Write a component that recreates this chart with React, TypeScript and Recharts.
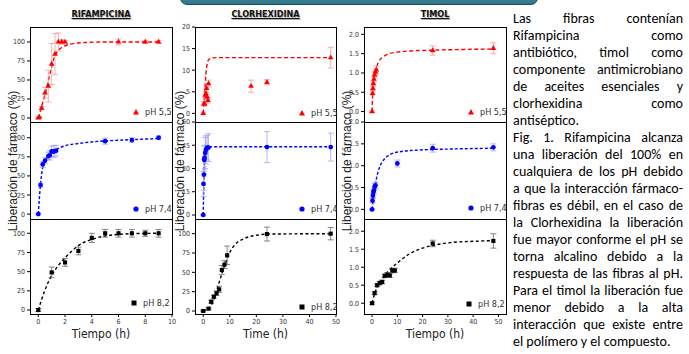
import React from 'react';
import { ComposedChart, Scatter, Line, XAxis, YAxis, ZAxis, ErrorBar } from 'recharts';

// [tiempo, liberación, error]
const rif55 = [[0, 0, 1], [0.08, 1, 1], [0.25, 13, 2], [0.5, 33, 7], [0.75, 42, 21], [1, 71, 27], [1.25, 84, 27], [1.5, 100, 12], [1.75, 100, 3], [2, 100, 2], [6, 100, 4], [8, 100, 2], [9, 100, 2]];
const rif74 = [[0, 0, 1], [0.17, 38, 3], [0.33, 65, 4], [0.5, 70, 4], [0.75, 76, 5], [0.85, 77, 6], [1, 82, 7], [1.17, 82, 8], [1.33, 83, 7], [5, 95.5, 4], [7, 97, 3], [9, 100, 2]];
const rif82 = [[0, 0, 2], [1, 49, 7], [2, 62, 5], [3, 77, 5], [4, 94, 6], [5, 100, 5], [6, 100, 5], [7, 100, 5], [8, 100, 4], [9, 100, 5]];
const clx55 = [[0, 0, 0.3], [0.25, 2.2, 0.4], [0.5, 2.2, 0.5], [0.75, 4.2, 0.8], [1, 4.6, 1], [1.25, 5.8, 1], [1.5, 3.8, 0.6], [1.75, 3, 0.6], [2, 6.9, 0.8], [18, 6.3, 1.4], [24, 7.2, 0.6], [48, 12.9, 2.4]];
const clx74 = [[0, 0, 0.5], [0.1, 20, 8], [0.25, 26, 10], [0.4, 35.5, 9], [0.5, 37, 8], [0.75, 40, 10], [1, 42, 9], [1.5, 43.5, 8], [2, 43.5, 9], [24, 43.8, 10], [48, 43.8, 9]];
const clx82 = [[0, 0, 1], [2, 3, 1], [3, 12, 2], [4, 18.5, 2], [5, 23, 3], [6, 28, 4], [7, 53, 6], [8, 60, 5], [9, 72, 12], [24, 99.5, 9], [48, 100, 8]];
const tim55 = [[0, 0, 0.02], [0.17, 0.47, 0.04], [0.33, 0.6, 0.05], [0.5, 0.73, 0.06], [0.75, 0.84, 0.07], [1, 0.95, 0.08], [1.33, 1.03, 0.08], [1.67, 1.08, 0.1], [24, 1.58, 0.12], [48, 1.64, 0.14]];
const tim74 = [[0, 0, 0.02], [0.17, 0.2, 0.05], [0.33, 0.31, 0.05], [0.5, 0.4, 0.06], [0.75, 0.43, 0.06], [1, 0.52, 0.07], [1.33, 0.55, 0.07], [10, 1.05, 0.08], [24, 1.4, 0.09], [48, 1.42, 0.08]];
const tim82 = [[0, 0, 0.03], [1, 0.28, 0.04], [2, 0.5, 0.04], [3, 0.56, 0.05], [4, 0.59, 0.05], [5, 0.76, 0.05], [6, 0.79, 0.06], [7, 0.77, 0.05], [8, 0.91, 0.06], [9, 0.91, 0.06], [24, 1.66, 0.09], [48, 1.73, 0.2]];

// curvas de ajuste [tiempo, liberación]
const rif55Fit = [[0, 0], [0.5, 31], [0.9, 60], [1.2, 80], [1.5, 89], [2, 95], [2.5, 97.5], [3.5, 99.3], [5, 100], [9, 100]];
const rif74Fit = [[0, 0], [0.15, 36], [0.3, 58], [0.5, 69], [0.75, 76], [1, 80], [1.5, 86], [2, 89.5], [3, 92.5], [4, 94.5], [5, 95.8], [7, 97.5], [9, 99]];
const rif82Fit = [[0, 0], [0.5, 26], [1, 45], [1.5, 58], [2, 68], [3, 84], [4, 92], [5, 96.5], [6, 98.5], [7, 99.5], [9, 100]];
const clx55Fit = [[0, 0], [0.5, 4], [1, 9], [1.5, 11.5], [2, 12.4], [3, 12.8], [5, 12.9], [48, 12.9]];
const clx74Fit = [[0, 0], [0.25, 24], [0.5, 35], [1, 41.5], [1.5, 43.5], [2, 44], [48, 44]];
const clx82Fit = [[0, 0], [2, 3], [4, 15], [6, 37], [8, 58], [10, 76], [12, 86], [15, 93], [20, 98], [25, 99.5], [48, 100]];
const tim55Fit = [[0, 0], [0.3, 0.55], [0.6, 0.78], [1, 0.98], [1.5, 1.1], [2.5, 1.28], [4, 1.4], [6, 1.48], [10, 1.54], [15, 1.57], [24, 1.59], [48, 1.62]];
const tim74Fit = [[0, 0], [0.8, 0.37], [1.7, 0.7], [3, 0.97], [5, 1.16], [7, 1.25], [11, 1.32], [19, 1.36], [30, 1.38], [48, 1.4]];
const tim82Fit = [[0, 0], [1, 0.26], [2, 0.45], [4, 0.68], [6, 0.86], [8, 1.0], [10, 1.12], [15, 1.38], [20, 1.53], [25, 1.62], [32, 1.69], [40, 1.72], [48, 1.74]];

const titles = ['RIFAMPICINA', 'CLORHEXIDINA', 'TIMOL'];
const xLabels = ['Tiempo (h)', 'Time (h)', 'Tiempo (h)'];
const phLabels = ['pH 5,5', 'pH 7,4', 'pH 8,2'];
const xTicksRif = [0, 2, 4, 6, 8, 10];
const xTicks50 = [0, 10, 20, 30, 40, 50];
const yTicks100 = [0, 25, 50, 75, 100];
const yTicks20 = [0, 5, 10, 15, 20];
const yTicks60 = [0, 15, 30, 45, 60];
const yTicks2 = [0, 0.5, 1, 1.5, 2];

const paragraph = [
  'Las fibras contenían',
  'Rifampicina como',
  'antibiótico, timol como',
  'componente antimicrobiano',
  'de aceites esenciales y',
  'clorhexidina como',
  'antiséptico.',
  'Fig. 1. Rifampicina alcanza',
  'una liberación del 100% en',
  'cualquiera de los pH debido',
  'a que la interacción fármaco-',
  'fibras es débil, en el caso de',
  'la Clorhexidina la liberación',
  'fue mayor conforme el pH se',
  'torna alcalino debido a la',
  'respuesta de las fibras al pH.',
  'Para el timol la liberación fue',
  'menor debido a la alta',
  'interacción que existe entre',
  'el polímero y el compuesto.',
];
const leftAligned = ['antiséptico.', 'el polímero y el compuesto.'];

const NARROW = '"Liberation Sans Narrow", "DejaVu Sans Condensed", "Arial Narrow", sans-serif';
const SANS = '"Liberation Sans", Arial, sans-serif';

const cols = [
  { left: 30, width: 142, xDomain: [-0.62, 10], xTicks: xTicksRif, fmt: (v: number) => String(v) },
  { left: 195, width: 141, xDomain: [-3.1, 50], xTicks: xTicks50, fmt: (v: number) => String(v) },
  { left: 364, width: 142, xDomain: [-3.2, 53], xTicks: xTicks50, fmt: (v: number) => v.toFixed(1) },
];
const rows = [
  { top: 27, height: 95, color: '#ff0000', err: '#f58c8c', shape: 'triangle', size: 14, dash: '4 2.5' },
  { top: 122, height: 97, color: '#0000ff', err: '#9a9af2', shape: 'circle', size: 18, dash: '3 2' },
  { top: 219, height: 95, color: '#000000', err: '#555555', shape: 'square', size: 17, dash: '3 2.5' },
];

const series = [
  [rif55, rif74, rif82],
  [clx55, clx74, clx82],
  [tim55, tim74, tim82],
];
const fits = [
  [rif55Fit, rif74Fit, rif82Fit],
  [clx55Fit, clx74Fit, clx82Fit],
  [tim55Fit, tim74Fit, tim82Fit],
];
const yDomains = [
  [[-5.3, 119.7], [-6.4, 120.6], [-5.2, 118.6]],
  [[-2, 20], [-2.6, 60], [-3.9, 119]],
  [[-0.27, 2.19], [-0.22, 2.0], [-0.3, 2.34]],
];
const yTicks = [
  [yTicks100, yTicks100, yTicks100],
  [yTicks20, yTicks60, yTicks100],
  [yTicks2, yTicks2, yTicks2],
];
const legendPos = [
  [[136, 112], [136, 209], [134, 303]],
  [[302, 113], [302, 209], [302, 307]],
  [[471, 112], [471, 208], [469, 304]],
];

const YW = 26;

function Panel({ c, r }: { c: number; r: number }) {
  const col = cols[c];
  const row = rows[r];
  const showX = r === 2;
  const pts = series[c][r].map(([t, v, e]) => ({ t, v, e }));
  const fit = fits[c][r].map(([t, v]) => ({ t, v }));
  const tick = { fontSize: 7, fill: '#333', fontFamily: NARROW };
  return (
    <div style={{ position: 'absolute', left: col.left - YW, top: row.top - 5 }}>
      <ComposedChart
        width={YW + col.width + 8}
        height={5 + row.height + (showX ? 16 : 4)}
        margin={{ top: 5, right: 8, bottom: showX ? 0 : 4, left: 0 }}
      >
        <XAxis type="number" dataKey="t" domain={col.xDomain} ticks={col.xTicks} interval={0} hide={!showX}
          height={16} tickSize={3} tickMargin={2} axisLine={false} tickLine={{ stroke: '#000' }} tick={tick} allowDataOverflow />
        <YAxis type="number" dataKey="v" domain={yDomains[c][r]} ticks={yTicks[c][r]} interval={0} width={YW}
          tickSize={3} tickMargin={2} axisLine={false} tickLine={{ stroke: '#000' }} tick={tick}
          tickFormatter={col.fmt} allowDataOverflow />
        <ZAxis range={[row.size, row.size]} />
        <Line data={fit} dataKey="v" type="monotone" stroke={row.color} strokeWidth={1.4}
          strokeDasharray={row.dash} dot={false} isAnimationActive={false} legendType="none" />
        <Scatter data={pts} fill={row.color} shape={row.shape as any} isAnimationActive={false}>
          <ErrorBar dataKey="e" direction="y" width={3} stroke={row.err} strokeWidth={0.7} />
        </Scatter>
      </ComposedChart>
    </div>
  );
}

function LegendMark({ c, r }: { c: number; r: number }) {
  const [x, y] = legendPos[c][r];
  const color = rows[r].color;
  return (
    <div style={{ position: 'absolute', left: x - 4, top: y - 6, height: 12, display: 'flex', alignItems: 'center', gap: 5 }}>
      <svg width={8} height={8}>
        {r === 0 && <polygon points="4,1 7,6.5 1,6.5" fill={color} />}
        {r === 1 && <circle cx={4} cy={4} r={2.6} fill={color} />}
        {r === 2 && <rect x={1.5} y={1.5} width={5} height={5} fill={color} />}
      </svg>
      <span style={{ fontFamily: NARROW, fontSize: 9, color: '#333', whiteSpace: 'nowrap' }}>{phLabels[r]}</span>
    </div>
  );
}

export default function App() {
  return (
    <div style={{ position: 'absolute', left: 0, top: 0, width: 689, height: 354, background: '#fff', overflow: 'hidden' }}>
      <div style={{
        position: 'absolute', left: 180, top: -12, width: 356, height: 15, borderRadius: 7,
        background: 'linear-gradient(#4c9db1, #2f7487)', border: '1px solid #1c4e5c',
      }} />
      {cols.map((col, c) => (
        <React.Fragment key={c}>
          <div style={{
            position: 'absolute', left: col.left + col.width / 2 - 50, width: 100, top: 9, textAlign: 'center',
            fontFamily: NARROW, fontWeight: 'bold', fontSize: 9, textDecoration: 'underline',
            textShadow: '1px 1px 1px #aaa', color: '#111',
          }}>{titles[c]}</div>
          {rows.map((_, r) => <Panel key={r} c={c} r={r} />)}
          <div style={{
            position: 'absolute', left: col.left, top: 27, width: col.width + 1, height: 288,
            border: '1px solid #000', boxSizing: 'border-box', pointerEvents: 'none',
          }} />
          <div style={{ position: 'absolute', left: col.left, top: 122, width: col.width + 1, height: 1, background: '#000' }} />
          <div style={{ position: 'absolute', left: col.left, top: 219, width: col.width + 1, height: 1, background: '#000' }} />
          {rows.map((_, r) => <LegendMark key={'l' + r} c={c} r={r} />)}
          <div style={{
            position: 'absolute', left: col.left + col.width / 2, top: 334, transform: 'translate(-50%, -50%)',
            fontFamily: NARROW, fontSize: 12, color: '#222', whiteSpace: 'nowrap',
          }}>{xLabels[c]}</div>
        </React.Fragment>
      ))}
      {[12.5, 180, 347].map((x, i) => (
        <div key={i} style={{
          position: 'absolute', left: x, top: 161, transform: 'translate(-50%, -50%) rotate(-90deg)',
          fontFamily: SANS, fontSize: 12, color: '#222', whiteSpace: 'nowrap',
        }}>Liberación de fármaco (%)</div>
      ))}
      <div style={{ position: 'absolute', left: 513, top: 9.5, width: 170, fontFamily: 'Carlito, Lato, sans-serif', fontSize: 14, lineHeight: '17px', color: '#000' }}>
        {paragraph.map((line, i) => (
          <div key={i} style={{
            whiteSpace: 'nowrap',
            textAlign: leftAligned.includes(line) ? 'left' : 'justify',
            textAlignLast: leftAligned.includes(line) ? 'left' : 'justify',
          }}>{line}</div>
        ))}
      </div>
    </div>
  );
}
